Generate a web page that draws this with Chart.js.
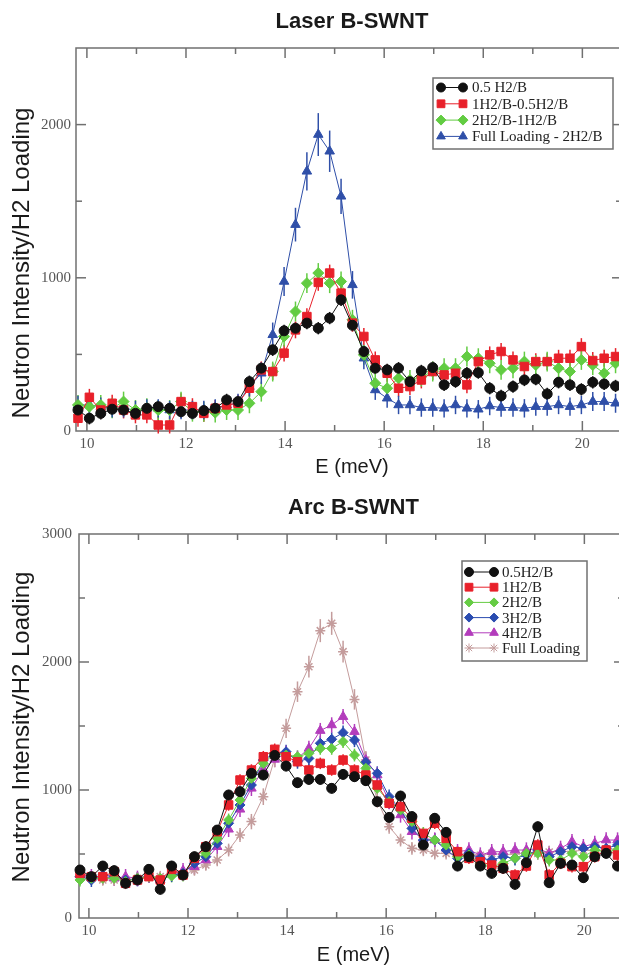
<!DOCTYPE html>
<html>
<head>
<meta charset="utf-8">
<script src="https://cdn.jsdelivr.net/npm/chart.js@4.4.0/dist/chart.umd.min.js"></script>
<style>
html, body { margin: 0; padding: 0; background: #fff; overflow: hidden; width: 619px; height: 969px; }
canvas { position: absolute; left: 0; }
#laser { top: 0; }
#arc { top: 485px; }
</style>
</head>
<body>
<canvas id="laser" width="632" height="485"></canvas>
<canvas id="arc" width="632" height="484"></canvas>
<script>
// energy transfer grid (meV), shared by both runs
const energy = [
    9.82, 10.05, 10.28, 10.51, 10.74, 10.98, 11.21, 11.44, 11.67, 11.90,
    12.13, 12.36, 12.59, 12.82, 13.05, 13.28, 13.52, 13.75, 13.98, 14.21,
    14.44, 14.67, 14.90, 15.13, 15.36, 15.59, 15.82, 16.06, 16.29, 16.52,
    16.75, 16.98, 17.21, 17.44, 17.67, 17.90, 18.13, 18.36, 18.60, 18.83,
    19.06, 19.29, 19.52, 19.75, 19.98, 20.21, 20.44, 20.67
];

// labelled ticks
const energyTicks = [10, 12, 14, 16, 18, 20];
const laserTicks = [0, 1000, 2000];
const arcTicks = [0, 1000, 2000, 3000];

// Laser B-SWNT, difference spectra
const laserHalf = [137, 83, 115, 142, 137, 115, 148, 159, 148, 126, 115, 133, 148, 203, 192, 322, 410, 530, 654, 671, 704, 671, 737, 856, 690, 519, 410, 399, 410, 322, 392, 414, 301, 322, 377, 381, 279, 229, 290, 333, 338, 242, 318, 301, 272, 318, 307, 294];
const laserOne = [83, 220, 137, 181, 137, 105, 105, 39, 39, 192, 159, 115, 148, 170, 181, 279, 399, 388, 508, 660, 747, 970, 1031, 900, 704, 617, 464, 377, 279, 290, 333, 388, 366, 377, 301, 453, 497, 519, 464, 421, 453, 453, 475, 475, 551, 460, 475, 486];
const laserTwo = [170, 159, 170, 148, 192, 137, 148, 137, 137, 192, 126, 126, 120, 137, 137, 181, 257, 388, 617, 780, 965, 1031, 965, 976, 726, 497, 312, 279, 344, 333, 355, 388, 410, 410, 486, 475, 442, 399, 410, 453, 431, 453, 410, 388, 464, 431, 377, 442];
const laserFull = [170, 170, 159, 148, 148, 137, 148, 148, 137, 137, 137, 137, 148, 170, 181, 290, 377, 628, 976, 1347, 1695, 1935, 1826, 1532, 954, 475, 268, 214, 170, 170, 153, 153, 148, 170, 148, 142, 163, 153, 153, 148, 159, 159, 170, 159, 170, 192, 192, 181];
const laserFullErr = [60, 60, 60, 60, 60, 60, 60, 60, 60, 60, 60, 60, 60, 60, 62, 65, 70, 80, 95, 110, 125, 140, 135, 115, 90, 72, 65, 62, 60, 60, 60, 60, 60, 60, 60, 60, 60, 60, 60, 60, 60, 60, 60, 60, 60, 62, 62, 62];

// Arc B-SWNT, per loading
const arcHalf = [375, 323, 406, 370, 271, 297, 380, 224, 406, 336, 479, 557, 687, 961, 987, 1130, 1117, 1270, 1187, 1057, 1083, 1083, 1013, 1122, 1104, 1073, 909, 786, 953, 792, 570, 779, 669, 406, 479, 406, 349, 388, 263, 432, 713, 276, 427, 414, 315, 479, 505, 406];
const arcOne = [349, 323, 323, 362, 271, 297, 323, 297, 380, 336, 466, 557, 674, 883, 1078, 1156, 1260, 1318, 1260, 1221, 1156, 1208, 1156, 1234, 1156, 1117, 1039, 896, 870, 779, 661, 740, 622, 518, 466, 440, 414, 388, 336, 406, 570, 336, 427, 401, 401, 479, 531, 492];
const arcTwo = [297, 310, 310, 310, 284, 310, 323, 310, 328, 336, 466, 505, 622, 766, 922, 1091, 1208, 1286, 1273, 1260, 1286, 1325, 1325, 1378, 1273, 1169, 1013, 909, 844, 753, 661, 609, 570, 479, 492, 427, 401, 427, 466, 505, 505, 453, 453, 505, 479, 531, 518, 531];
const arcThree = [323, 297, 336, 323, 297, 302, 328, 297, 336, 349, 427, 479, 583, 740, 883, 1039, 1234, 1286, 1299, 1221, 1247, 1365, 1396, 1448, 1390, 1216, 1130, 948, 844, 700, 609, 609, 531, 466, 505, 466, 453, 479, 466, 492, 531, 479, 518, 557, 544, 557, 544, 570];
const arcFour = [336, 323, 323, 310, 323, 310, 336, 297, 349, 370, 401, 453, 557, 693, 849, 1013, 1161, 1239, 1286, 1247, 1325, 1464, 1508, 1573, 1456, 1234, 1117, 909, 805, 674, 622, 609, 544, 518, 531, 492, 518, 518, 531, 531, 544, 505, 544, 596, 557, 583, 609, 609];
const arcFull = [323, 310, 297, 297, 297, 310, 323, 323, 349, 336, 375, 414, 453, 531, 648, 753, 948, 1247, 1482, 1768, 1963, 2245, 2302, 2081, 1708, 1234, 922, 713, 609, 544, 531, 505, 505, 495, 500, 490, 505, 495, 500, 510, 505, 515, 520, 520, 530, 525, 535, 540];
const arcFullErr = [45, 45, 45, 45, 45, 45, 45, 45, 45, 45, 45, 45, 48, 50, 55, 60, 65, 70, 75, 80, 85, 90, 90, 85, 80, 70, 60, 55, 50, 50, 48, 48, 48, 48, 48, 48, 48, 48, 48, 48, 48, 48, 48, 48, 48, 48, 48, 48];

const xTitle = 'E (meV)';
const yTitle = 'Neutron Intensity/H2 Loading';

function pts(vals) {
    return energy.map((e, i) => ({ x: e, y: vals[i] }));
}

function series(label, vals, color, style, radius, err) {
    return {
        label: label,
        data: pts(vals),
        err: err,
        borderColor: color,
        backgroundColor: color,
        borderWidth: 1,
        pointStyle: style,
        pointRadius: radius,
        pointBackgroundColor: color,
        pointBorderColor: color,
        pointBorderWidth: style === 'star' ? 1.5 : 1,
        tension: 0,
        clip: false
    };
}

function line(ctx, x1, y1, x2, y2) {
    ctx.beginPath();
    ctx.moveTo(x1, y1);
    ctx.lineTo(x2, y2);
    ctx.stroke();
}

// frame with inward ticks, error bars, titles and the boxed legend
const sheet = {
    id: 'sheet',
    beforeDatasetsDraw(chart, args, opts) {
        const { ctx, chartArea: a, scales: { x, y } } = chart;
        ctx.save();
        ctx.strokeStyle = '#707070';
        ctx.lineWidth = 1.5;
        ctx.strokeRect(a.left, a.top, a.right - a.left, a.bottom - a.top);
        for (let e = Math.ceil(x.min); e <= x.max; e++) {
            const px = x.getPixelForValue(e);
            const len = e % 2 === 0 ? 10 : 6;
            line(ctx, px, a.bottom, px, a.bottom - len);
            line(ctx, px, a.top, px, a.top + len);
        }
        for (let v = 500; v < y.max; v += 500) {
            const py = y.getPixelForValue(v);
            const len = v % 1000 === 0 ? 10 : 6;
            line(ctx, a.left, py, a.left + len, py);
            line(ctx, a.right, py, a.right - len, py);
        }

        // vertical error bars, behind the markers
        chart.data.datasets.forEach((ds, i) => {
            const meta = chart.getDatasetMeta(i);
            ctx.strokeStyle = ds.borderColor;
            ctx.lineWidth = 1.5;
            meta.data.forEach((p, j) => {
                const e = Array.isArray(ds.err) ? ds.err[j] : ds.err;
                const v = ds.data[j].y;
                line(ctx, p.x, y.getPixelForValue(v - e), p.x, y.getPixelForValue(v + e));
            });
        });
        ctx.restore();
    },
    afterDraw(chart, args, opts) {
        const { ctx, chartArea: a } = chart;
        const mid = (a.left + a.right) / 2 + opts.titleShift;
        ctx.save();
        ctx.fillStyle = '#1a1a1a';
        ctx.textAlign = 'center';
        ctx.textBaseline = 'middle';
        ctx.font = 'bold 22px "Liberation Sans", Arial, sans-serif';
        ctx.fillText(opts.title, mid, opts.titleY);
        ctx.font = '20px "Liberation Sans", Arial, sans-serif';
        ctx.fillText(xTitle, mid, opts.xTitleY);
        ctx.save();
        ctx.translate(22, opts.yTitleY);
        ctx.rotate(-Math.PI / 2);
        ctx.font = '24px "Liberation Sans", Arial, sans-serif';
        ctx.fillText(yTitle, 0, 0);
        ctx.restore();

        // legend box
        const L = opts.legend;
        ctx.fillStyle = '#fff';
        ctx.fillRect(L.x, L.y, L.w, L.h);
        ctx.strokeStyle = '#707070';
        ctx.lineWidth = 1.5;
        ctx.strokeRect(L.x, L.y, L.w, L.h);
        ctx.font = '15px "Liberation Serif", "Times New Roman", serif';
        ctx.textAlign = 'left';
        chart.data.datasets.forEach((ds, i) => {
            const ry = L.y + L.first + i * L.step;
            ctx.strokeStyle = ds.borderColor;
            ctx.fillStyle = ds.borderColor;
            ctx.lineWidth = 1;
            line(ctx, L.x + L.x1, ry, L.x + L.x2, ry);
            const mk = { pointStyle: ds.pointStyle, radius: ds.pointRadius - 0.5, rotation: 0, borderWidth: ds.pointBorderWidth };
            Chart.helpers.drawPoint(ctx, mk, L.x + L.x1, ry);
            Chart.helpers.drawPoint(ctx, mk, L.x + L.x2, ry);
            ctx.fillStyle = '#222';
            ctx.fillText(ds.label, L.x + L.tx, ry + 1);
        });
        ctx.restore();
    }
};

function makeChart(id, datasets, cfg) {
    const tickFont = { family: '"Liberation Serif", "Times New Roman", serif', size: 15 };
    return new Chart(document.getElementById(id), {
        type: 'line',
        data: { datasets: datasets },
        plugins: [sheet],
        options: {
            responsive: false,
            animation: false,
            layout: { padding: { top: cfg.top, right: cfg.right, left: 0, bottom: 0 } },
            scales: {
                x: {
                    type: 'linear',
                    min: cfg.xMin,
                    max: 20.8,
                    grid: { display: false, drawTicks: false },
                    border: { display: false },
                    ticks: { padding: 4, color: '#555', font: tickFont },
                    afterBuildTicks(s) { s.ticks = energyTicks.map(v => ({ value: v })); },
                    afterFit(s) { s.height = cfg.xHeight; }
                },
                y: {
                    min: 0,
                    max: cfg.yMax,
                    grid: { display: false, drawTicks: false },
                    border: { display: false },
                    ticks: { padding: cfg.yPad, color: '#555', font: tickFont, callback: v => String(v) },
                    afterBuildTicks(s) { s.ticks = cfg.yTicks.map(v => ({ value: v })); },
                    afterFit(s) { s.width = cfg.yWidth; }
                }
            },
            plugins: {
                legend: { display: false },
                tooltip: { enabled: false },
                sheet: cfg.sheet
            }
        }
    });
}

makeChart('laser', [
    series('0.5 H2/B', laserHalf, '#111111', 'circle', 5, 40),
    series('1H2/B-0.5H2/B', laserOne, '#e8202a', 'rect', 6, 55),
    series('2H2/B-1H2/B', laserTwo, '#62cc42', 'rectRot', 5.5, 65),
    series('Full Loading - 2H2/B', laserFull, '#2f4fa8', 'triangle', 5.5, laserFullErr)
], {
    top: 48, right: 10, xMin: 9.78, yMax: 2500, yTicks: laserTicks, xHeight: 54, yWidth: 76, yPad: 5,
    sheet: {
        title: 'Laser B-SWNT', titleShift: 3, titleY: 22, xTitleY: 467, yTitleY: 263,
        legend: { x: 433, y: 78, w: 180, h: 71, first: 9.5, step: 16.3, x1: 8, x2: 30, tx: 39 }
    }
});

makeChart('arc', [
    series('0.5H2/B', arcHalf, '#111111', 'circle', 5, 40),
    series('1H2/B', arcOne, '#e8202a', 'rect', 6, 45),
    series('2H2/B', arcTwo, '#66cc44', 'rectRot', 5, 50),
    series('3H2/B', arcThree, '#2a4cb0', 'rectRot', 5, 55),
    series('4H2/B', arcFour, '#b33cbc', 'triangle', 5.5, 60),
    series('Full Loading', arcFull, '#c49c9c', 'star', 5, arcFullErr)
], {
    top: 49, right: 8, xMin: 9.80, yMax: 3000, yTicks: arcTicks, xHeight: 51, yWidth: 79, yPad: 7,
    sheet: {
        title: 'Arc B-SWNT', titleShift: 2, titleY: 23, xTitleY: 470, yTitleY: 242,
        legend: { x: 462, y: 76, w: 125, h: 100, first: 11, step: 15.2, x1: 7, x2: 32, tx: 40 }
    }
});
</script>
</body>
</html>
